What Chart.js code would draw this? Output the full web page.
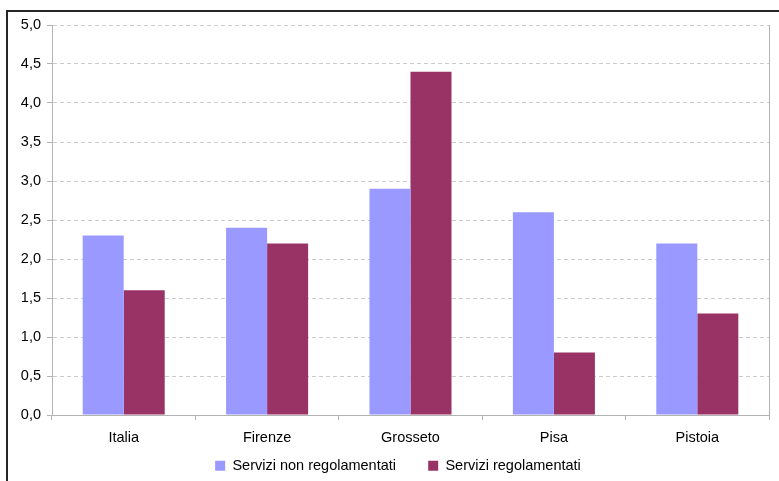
<!DOCTYPE html>
<html>
<head>
<meta charset="utf-8">
<script src="https://cdn.jsdelivr.net/npm/chart.js@4/dist/chart.umd.min.js"></script>
<style>
  html, body { margin: 0; padding: 0; background: #fff; overflow: hidden; }
  #wrap { position: relative; width: 779px; height: 481px; }
  #frame {
    position: absolute; left: 6px; top: 10px; width: 900px; height: 600px;
    border-left: 2px solid #262626; border-top: 2px solid #262626;
    box-sizing: border-box; pointer-events: none;
  }
  canvas { position: absolute; left: 0; top: 0; }
</style>
</head>
<body>
<div id="wrap">
  <canvas id="chart" width="779" height="481"></canvas>
  <div id="frame"></div>
</div>
<script>
// Province compared with the national figure
const categories = ['Italia', 'Firenze', 'Grosseto', 'Pisa', 'Pistoia'];
const seriesNames = ['Servizi non regolamentati', 'Servizi regolamentati'];
const nonRegolamentati = [2.3, 2.4, 2.9, 2.6, 2.2];
const regolamentati = [1.6, 2.2, 4.4, 0.8, 1.3];
const yMin = 0;
const yMax = 5;
const yStep = 0.5;

const FONT = { family: 'Liberation Sans, Arial, sans-serif', size: 14.5 };
const AXIS_GRAY = '#b3b3b3';
// extra room after each legend entry (legend padding also sets its height)
const LEGEND_GAP = '\u00a0'.repeat(6);

new Chart(document.getElementById('chart'), {
  type: 'bar',
  data: {
    labels: categories,
    datasets: [
      { label: seriesNames[0], data: nonRegolamentati, backgroundColor: '#9999ff', borderWidth: 0 },
      { label: seriesNames[1], data: regolamentati, backgroundColor: '#993366', borderWidth: 0 }
    ]
  },
  options: {
    responsive: false,
    animation: false,
    devicePixelRatio: 1,
    categoryPercentage: 0.572,
    barPercentage: 1.0,
    layout: { padding: { top: 25, right: 0, left: 17, bottom: -2 } },
    plugins: {
      tooltip: { enabled: false },
      legend: {
        position: 'bottom',
        labels: {
          color: '#000',
          font: FONT,
          boxWidth: 10,
          boxHeight: 10,
          padding: 8,
          generateLabels: (chart) => {
            const items = Chart.defaults.plugins.legend.labels.generateLabels(chart);
            items.forEach((it, i) => {
              if (i < items.length - 1) it.text = it.text + LEGEND_GAP;
            });
            return items;
          }
        }
      }
    },
    scales: {
      x: {
        afterFit: (s) => { s.height = 35.5; },
        grid: {
          drawOnChartArea: false,
          drawTicks: true,
          tickLength: 5,
          tickColor: AXIS_GRAY,
          offset: true
        },
        border: { color: AXIS_GRAY, width: 1 },
        ticks: { color: '#000', font: FONT, padding: 9, maxRotation: 0 }
      },
      y: {
        min: yMin,
        max: yMax,
        afterFit: (s) => { s.width = 35; },
        grid: {
          color: '#cccccc',
          tickColor: AXIS_GRAY,
          tickLength: 5,
          drawTicks: true
        },
        border: { color: AXIS_GRAY, width: 1, dash: [4, 3] },
        ticks: {
          stepSize: yStep,
          color: '#000',
          font: FONT,
          padding: 6,
          callback: (v) => v.toFixed(1).replace('.', ',')
        }
      },
      yRight: {
        position: 'right',
        min: yMin,
        max: yMax,
        afterFit: (s) => { s.width = 10; },
        grid: { drawOnChartArea: false, drawTicks: false },
        border: { color: AXIS_GRAY, width: 1 },
        ticks: { display: false }
      }
    }
  }
});
</script>
</body>
</html>
